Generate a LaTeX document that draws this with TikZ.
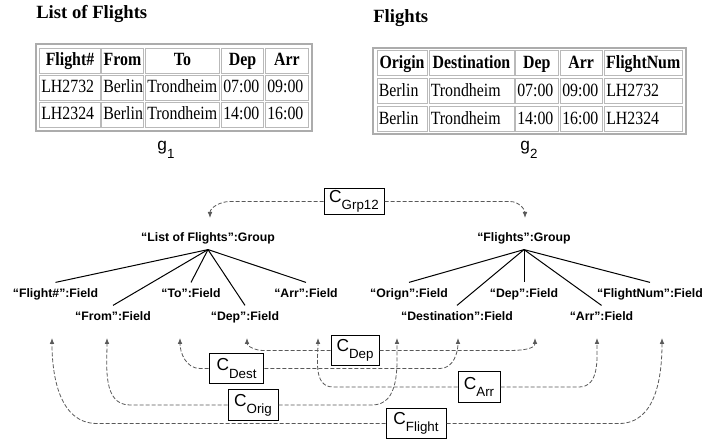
\documentclass[tikz,border=0pt]{standalone}
\usepackage{fontspec}
\setmainfont{Liberation Serif}
\setsansfont{Liberation Sans}
\usetikzlibrary{
    arrows.meta,
    calc,
}

\newcommand{\tabtxt}[1]{\scalebox{0.85}[1]{#1}}
\newcommand{\csub}[2]{#1\raisebox{-0.8ex}{\fontsize{10}{11}\selectfont #2}}

\begin{document}
\begin{tikzpicture}[x=0.75pt, y=0.75pt,
    tabtitle/.style={font=\fontsize{14}{16}\selectfont\bfseries, inner sep=0pt, anchor=base west},
    cellbox/.style={draw=gray!55, line width=0.75pt},
    tabbox/.style={draw=gray!65, line width=1.5pt},
    tabhead/.style={font=\fontsize{14}{16}\selectfont\bfseries, inner sep=0pt, text height=10pt, text depth=3pt},
    tabdata/.style={font=\fontsize{14}{16}\selectfont, inner sep=0pt, text height=10pt, text depth=3pt, anchor=west},
    gname/.style={font=\sffamily\fontsize{13}{14}\selectfont, inner sep=0pt},
    fieldlbl/.style={font=\sffamily\bfseries\fontsize{9.2}{11}\selectfont, text height=7pt, text depth=2pt, inner xsep=1pt, inner ysep=4pt},
    mapbox/.style={draw, line width=0.75pt, font=\sffamily\fontsize{13}{14}\selectfont, minimum height=23pt, inner sep=0pt},
    treeline/.style={line width=0.75pt},
    mapline/.style={draw=black!65, line width=0.6pt, dash pattern=on 3pt off 1.5pt, -{Latex[length=4.5pt,width=3.5pt]}}]

    \useasboundingbox (0,0) rectangle (704,-441);

    \node[tabtitle] (t1) at (36,-18.5) {List of Flights};
    \draw[tabbox] (35.5,-44.5) rectangle (311.5,-131);
    \foreach \x/\w/\h/\a/\b [count=\i] in {39.5/61/Flight\#/LH2732/LH2324, 101.5/42/From/Berlin/Berlin, 145.5/74/To/Trondheim/Trondheim, 221.5/42/Dep/07:00/14:00, 265.5/43/Arr/09:00/16:00}{
        \draw[cellbox] (\x,-48.5) rectangle ++(\w,-25);
        \draw[cellbox] (\x,-76) rectangle ++(\w,-24.5);
        \draw[cellbox] (\x,-103) rectangle ++(\w,-24.5);
        \node[tabhead] (h1\i) at ({\x+\w/2},-61) {\tabtxt{\h}};
        \node[tabdata] (a1\i) at (\x+1.5,-88.25) {\tabtxt{\a}};
        \node[tabdata] (b1\i) at (\x+1.5,-115.25) {\tabtxt{\b}};
    }
    \node[gname] (g1) at (166,-150) {\csub{g}{1}};

    \node[tabtitle] (t2) at (373,-22.5) {Flights};
    \draw[tabbox] (372.5,-48) rectangle (686,-134.5);
    \foreach \x/\w/\h/\a/\b [count=\i] in {377/50/Origin/Berlin/Berlin, 429/85/Destination/Trondheim/Trondheim, 515.5/42.5/Dep/07:00/14:00, 560.5/41.5/Arr/09:00/16:00, 604.5/77.5/FlightNum/LH2732/LH2324}{
        \draw[cellbox] (\x,-51) rectangle ++(\w,-25);
        \draw[cellbox] (\x,-79) rectangle ++(\w,-25);
        \draw[cellbox] (\x,-107) rectangle ++(\w,-25);
        \node[tabhead] (h2\i) at ({\x+\w/2},-63.5) {\tabtxt{\h}};
        \node[tabdata] (a2\i) at (\x+1.5,-91.5) {\tabtxt{\a}};
        \node[tabdata] (b2\i) at (\x+1.5,-119.5) {\tabtxt{\b}};
    }
    \node[gname] (g2) at (529,-150) {\csub{g}{2}};

    \node[fieldlbl] (lg) at (208,-238) {“List of Flights”:Group};
    \node[fieldlbl] (rg) at (524,-238) {“Flights”:Group};

    \node[fieldlbl] (fFlight) at (55.5,-294) {“Flight\#”:Field};
    \node[fieldlbl] (fFrom) at (113,-317) {“From”:Field};
    \node[fieldlbl] (fTo) at (191,-294) {“To”:Field};
    \node[fieldlbl] (fDepA) at (245,-317) {“Dep”:Field};
    \node[fieldlbl] (fArrA) at (306,-294) {“Arr”:Field};
    \node[fieldlbl] (fOrign) at (409,-294) {“Orign”:Field};
    \node[fieldlbl] (fDest) at (457,-317) {“Destination”:Field};
    \node[fieldlbl] (fDepB) at (524,-294) {“Dep”:Field};
    \node[fieldlbl] (fArrB) at (601.5,-317) {“Arr”:Field};
    \node[fieldlbl] (fFlightNum) at (650,-294) {“FlightNum”:Field};

    \foreach \f in {fFlight, fFrom, fTo, fDepA, fArrA}
        \draw[treeline] (lg.south) -- (\f.north);
    \foreach \f in {fOrign, fDest, fDepB, fArrB, fFlightNum}
        \draw[treeline] (rg.south) -- (\f.north);

    \node[mapbox, minimum width=45pt, minimum height=20pt] (cGrp) at (354,-201.5) {\csub{C}{Grp12}};
    \node[mapbox, minimum width=36pt] (cDep) at (355,-350.5) {\csub{C}{Dep}};
    \node[mapbox, minimum width=41pt] (cDest) at (236.5,-368.5) {\csub{C}{Dest}};
    \node[mapbox, minimum width=31.5pt] (cArr) at (479,-387) {\csub{C}{Arr}};
    \node[mapbox, minimum width=37.5pt] (cOrig) at (253,-405) {\csub{C}{Orig}};
    \node[mapbox, minimum width=45pt] (cFlight) at (416,-423.5) {\csub{C}{Flight}};

    \coordinate (pGrpL) at (210,-218);
    \coordinate (pGrpR) at (525,-218);
    \coordinate (pFlightA) at (52,-338);
    \coordinate (pFromA) at (107,-338);
    \coordinate (pToA) at (180,-338);
    \coordinate (pDepA) at (247,-338);
    \coordinate (pArrA) at (318,-338);
    \coordinate (pOrigB) at (397,-338);
    \coordinate (pDestB) at (458,-338);
    \coordinate (pDepB) at (535,-338);
    \coordinate (pArrB) at (597,-338);
    \coordinate (pFlightB) at (662,-338);

    \draw[mapline] (cGrp.west) -- ($(pGrpL |- cGrp.west)+(20,0)$) to[out=180,in=90] (pGrpL);
    \draw[mapline] (cGrp.east) -- ($(pGrpR |- cGrp.east)-(15,0)$) to[out=0,in=90] (pGrpR);
    \foreach \c/\l/\r/\dl/\dr in {cDep/pDepA/pDepB/16/26, cDest/pToA/pDestB/20/18, cArr/pArrA/pArrB/15/18, cOrig/pFromA/pOrigB/23/25, cFlight/pFlightA/pFlightB/45/43}{
        \draw[mapline] (\c.west) -- ($(\l |- \c.west)+(\dl,0)$) to[out=180,in=-90] (\l);
        \draw[mapline] (\c.east) -- ($(\r |- \c.east)-(\dr,0)$) to[out=0,in=-90] (\r);
    }
\end{tikzpicture}
\end{document}
